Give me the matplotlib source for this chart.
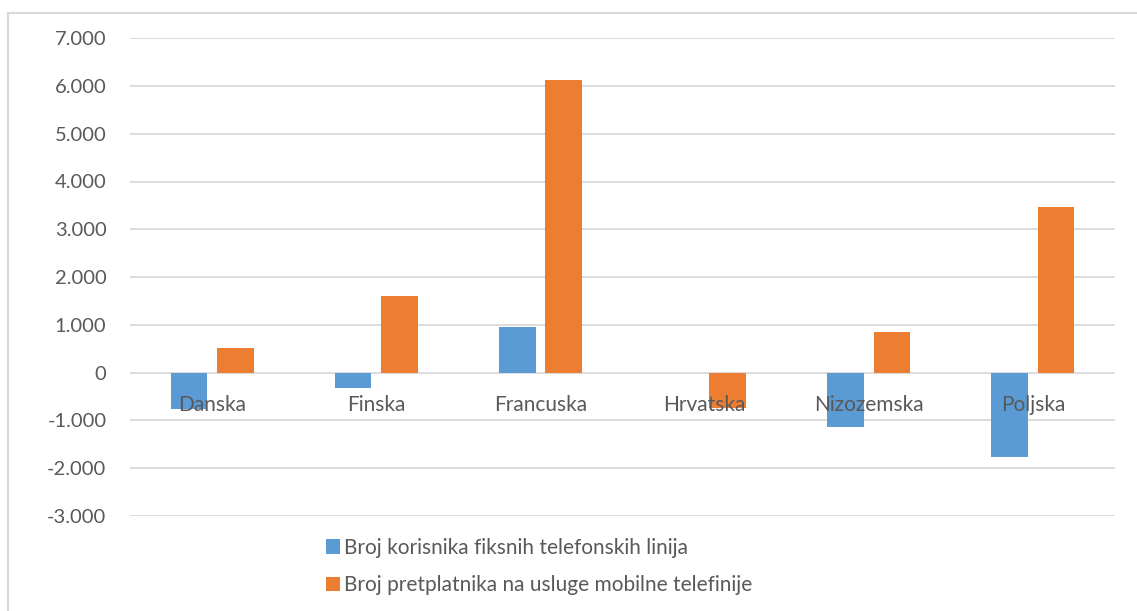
import numpy as np
import matplotlib.pyplot as plt
from matplotlib.lines import Line2D
from matplotlib.ticker import FuncFormatter

# data
countries = ['Danska', 'Finska', 'Francuska', 'Hrvatska', 'Nizozemska', 'Poljska']
fixed_lines = [-770, -330, 950, -10, -1150, -1760]
mobile_subs = [510, 1600, 6130, -750, 840, 3470]
series_names = ['Broj korisnika fiksnih telefonskih linija',
                'Broj pretplatnika na usluge mobilne telefinije']

BLUE = '#5B9BD5'
ORANGE = '#ED7D31'
TEXT = '#595959'
GRID = '#D9D9D9'

plt.rcParams['font.family'] = ['Lato', 'DejaVu Sans']

fig = plt.figure(figsize=(11.37, 6.11), dpi=100)
ax = fig.add_axes([130 / 1137, 1 - 515.75 / 611, 985 / 1137, 477.5 / 611])

x = np.arange(len(countries))
w = 0.223
ax.bar(x - 0.141, fixed_lines, w, color=BLUE, label=series_names[0], zorder=2)
ax.bar(x + 0.141, mobile_subs, w, color=ORANGE, label=series_names[1], zorder=2)

ax.set_xlim(-0.5, len(countries) - 0.5)
ax.set_ylim(-3000, 7000)
yt = list(range(-3000, 7001, 1000))
ax.set_yticks(yt)
ax.yaxis.set_major_formatter(FuncFormatter(lambda v, p: f'{int(v):,}'.replace(',', '.')))
# gridlines behind the bars, labels on top of them
for v in yt:
    ax.axhline(v, color=GRID, linewidth=1.3, zorder=0)
ax.set_axisbelow(False)

# category labels sit just under the zero line
ax.set_xticks(x)
ax.set_xticklabels(countries)
for s in ['top', 'right', 'left', 'bottom']:
    ax.spines[s].set_visible(False)
ax.spines['bottom'].set_position(('data', 0))
ax.tick_params(axis='x', length=0, pad=16, labelsize=15, labelcolor=TEXT)
ax.tick_params(axis='y', length=0, pad=17, labelsize=14.5, labelcolor=TEXT)

fig.legend(loc='upper left', bbox_to_anchor=(307 / 1137, 1 - 519 / 611), ncol=1,
           frameon=False, handlelength=0.7, handleheight=0.7, handletextpad=0.2,
           labelspacing=0.85, fontsize=15, labelcolor=TEXT)

# chart border
fig.add_artist(Line2D([8 / 1137, 8 / 1137], [0, 1 - 13 / 611], transform=fig.transFigure,
                      color=GRID, linewidth=1.5))
fig.add_artist(Line2D([8 / 1137, 1], [1 - 13 / 611, 1 - 13 / 611], transform=fig.transFigure,
                      color=GRID, linewidth=1.5))

fig.savefig('out.png', dpi=100)
